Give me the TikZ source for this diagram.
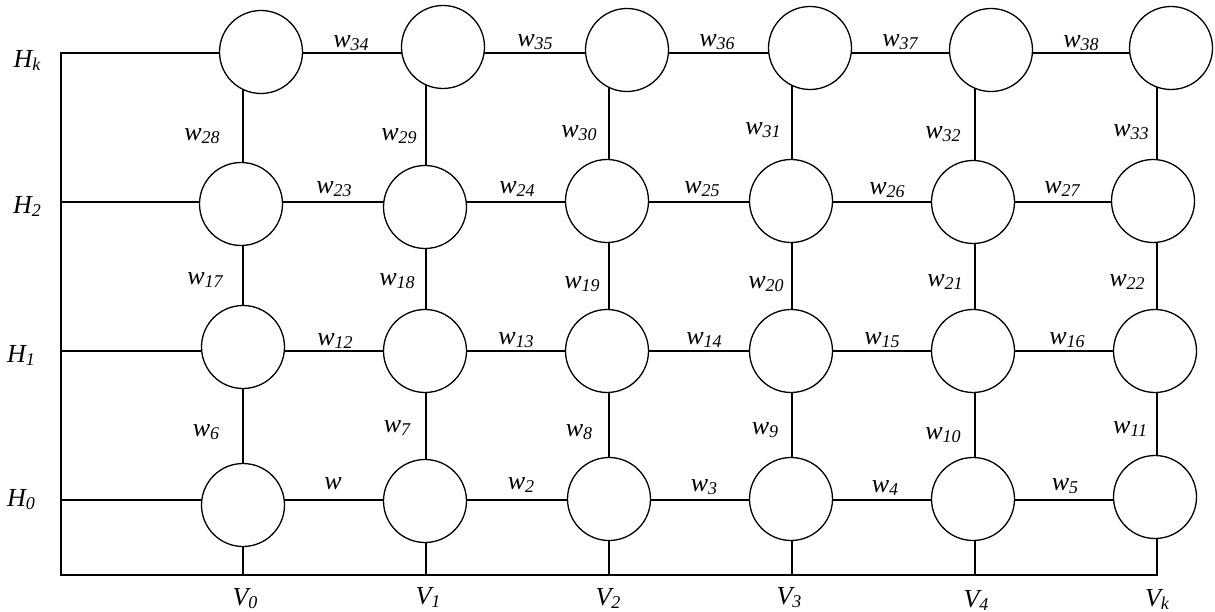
\documentclass[tikz,border=0pt]{standalone}
\usepackage{fontspec}
\setmainfont{Liberation Serif}
\usetikzlibrary{backgrounds}
\newcommand{\lbl}[2]{{\fontsize{26}{26}\selectfont\itshape #1\raisebox{-3pt}{\fontsize{18}{18}\selectfont #2}}}
\begin{document}
\begin{tikzpicture}[x=1pt,y=-1pt,
  cell/.style={circle,draw,fill=white,line width=1.3pt,minimum size=83pt,inner sep=0pt},
  wire/.style={line width=1.3pt,line join=miter},
  lab/.style={inner sep=0pt}]
\useasboundingbox (0,0) rectangle (1215,612);
% circles
\node[cell] (k0) at (261,52) {};
\node[cell] (k1) at (443,47) {};
\node[cell] (k2) at (627,50) {};
\node[cell] (k3) at (810,48) {};
\node[cell] (k4) at (991,50) {};
\node[cell] (k5) at (1171,48) {};
\node[cell] (a0) at (241,204) {};
\node[cell] (a1) at (425,207) {};
\node[cell] (a2) at (607,201) {};
\node[cell] (a3) at (791,201) {};
\node[cell] (a4) at (973,202) {};
\node[cell] (a5) at (1153,201) {};
\node[cell] (c0) at (243,347) {};
\node[cell] (c1) at (425,351) {};
\node[cell] (c2) at (607,351) {};
\node[cell] (c3) at (791,351) {};
\node[cell] (c4) at (973,351) {};
\node[cell] (c5) at (1155,351) {};
\node[cell] (d0) at (243,505) {};
\node[cell] (d1) at (425,501) {};
\node[cell] (d2) at (609,499) {};
\node[cell] (d3) at (791,499) {};
\node[cell] (d4) at (973,499) {};
\node[cell] (d5) at (1155,497) {};
% frame coordinates
\coordinate (hk) at (61,53);
\coordinate (h2) at (61,202);
\coordinate (h1) at (61,351);
\coordinate (h0) at (61,500);
\coordinate (corner) at (61,575);
\coordinate (b0) at (243,575);
\coordinate (b1) at (426,575);
\coordinate (b2) at (609,575);
\coordinate (b3) at (792,575);
\coordinate (b4) at (975,575);
\coordinate (b5) at (1157,575);
\begin{scope}[on background layer]
\draw[wire] (hk -| k5) -- (hk) -- (corner) -- (b5) -- (b5 |- k5);
\draw[wire] (h2) -- (h2 -| a5);
\draw[wire] (h1) -- (h1 -| c5);
\draw[wire] (h0) -- (h0 -| d5);
\draw[wire] (b0) -- (b0 |- k0);
\draw[wire] (b1) -- (b1 |- k1);
\draw[wire] (b2) -- (b2 |- k2);
\draw[wire] (b3) -- (b3 |- k3);
\draw[wire] (b4) -- (b4 |- k4);
\end{scope}
% row / column labels
\node[lab] (Hk) at (27,60) {\lbl{H}{k}};
\node[lab] (H2) at (27,206) {\lbl{H}{2}};
\node[lab] (H1) at (21,355) {\lbl{H}{1}};
\node[lab] (H0) at (21,500) {\lbl{H}{0}};
\node[lab] (V0) at (245,599) {\lbl{V}{0}};
\node[lab] (V1) at (428,597) {\lbl{V}{1}};
\node[lab] (V2) at (608,598) {\lbl{V}{2}};
\node[lab] (V3) at (789,598) {\lbl{V}{3}};
\node[lab] (V4) at (976,600) {\lbl{V}{4}};
\node[lab] (Vk) at (1157,599) {\lbl{V}{k}};
% weight labels
\node[lab] (w34) at (351,43) {\lbl{w}{34}};
\node[lab] (w35) at (535,42) {\lbl{w}{35}};
\node[lab] (w36) at (717,42) {\lbl{w}{36}};
\node[lab] (w37) at (900,42) {\lbl{w}{37}};
\node[lab] (w38) at (1081,43) {\lbl{w}{38}};
\node[lab] (w28) at (202,136) {\lbl{w}{28}};
\node[lab] (w29) at (399,136) {\lbl{w}{29}};
\node[lab] (w30) at (579,133) {\lbl{w}{30}};
\node[lab] (w31) at (763,130) {\lbl{w}{31}};
\node[lab] (w32) at (943,134) {\lbl{w}{32}};
\node[lab] (w33) at (1131,132) {\lbl{w}{33}};
\node[lab] (w23) at (334,189) {\lbl{w}{23}};
\node[lab] (w24) at (517,189) {\lbl{w}{24}};
\node[lab] (w25) at (702,189) {\lbl{w}{25}};
\node[lab] (w26) at (887,190) {\lbl{w}{26}};
\node[lab] (w27) at (1062,189) {\lbl{w}{27}};
\node[lab] (w17) at (205,280) {\lbl{w}{17}};
\node[lab] (w18) at (397,281) {\lbl{w}{18}};
\node[lab] (w19) at (582,284) {\lbl{w}{19}};
\node[lab] (w20) at (766,284) {\lbl{w}{20}};
\node[lab] (w21) at (945,282) {\lbl{w}{21}};
\node[lab] (w22) at (1127,282) {\lbl{w}{22}};
\node[lab] (w12) at (335,341) {\lbl{w}{12}};
\node[lab] (w13) at (516,340) {\lbl{w}{13}};
\node[lab] (w14) at (704,340) {\lbl{w}{14}};
\node[lab] (w15) at (882,340) {\lbl{w}{15}};
\node[lab] (w16) at (1067,340) {\lbl{w}{16}};
\node[lab] (w6) at (206,432) {\lbl{w}{6}};
\node[lab] (w7) at (397,428) {\lbl{w}{7}};
\node[lab] (w8) at (579,432) {\lbl{w}{8}};
\node[lab] (w9) at (765,430) {\lbl{w}{9}};
\node[lab] (w10) at (943,435) {\lbl{w}{10}};
\node[lab] (w11) at (1130,429) {\lbl{w}{11}};
\node[lab] (w1) at (333,485) {\lbl{w}{}};
\node[lab] (w2) at (521,485) {\lbl{w}{2}};
\node[lab] (w3) at (704,487) {\lbl{w}{3}};
\node[lab] (w4) at (885,488) {\lbl{w}{4}};
\node[lab] (w5) at (1065,486) {\lbl{w}{5}};
\end{tikzpicture}
\end{document}
